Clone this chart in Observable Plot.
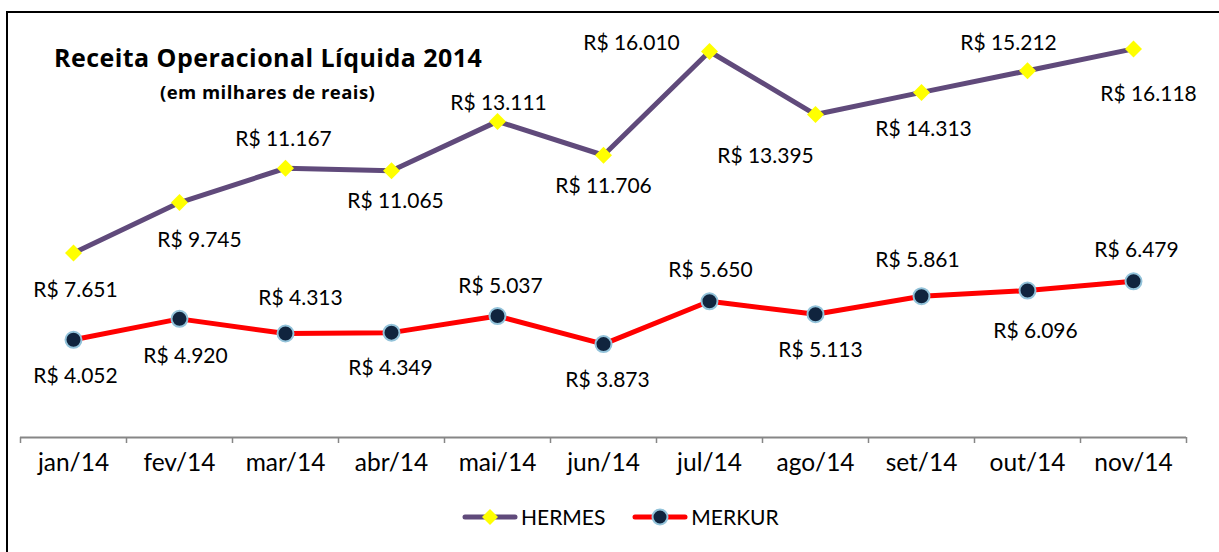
<!DOCTYPE html>
<html>
<head>
<meta charset="utf-8">
<script src="https://cdn.jsdelivr.net/npm/d3@7"></script>
<script src="https://cdn.jsdelivr.net/npm/@observablehq/plot@0.6"></script>
<style>
  html, body { margin: 0; padding: 0; background: #fff; }
  body { width: 1219px; height: 552px; position: relative; overflow: hidden; font-family: Lato, "Open Sans", sans-serif; }
  #frame { position: absolute; left: 6px; top: 11px; width: 1300px; height: 700px; border-left: 2px solid #000; border-top: 2px solid #000; box-sizing: border-box; }
  #chart { position: absolute; left: 0; top: 0; }
  #title { position: absolute; left: 54px; top: 42px; font-family: "Open Sans", Lato, sans-serif; font-weight: bold; font-size: 25px; letter-spacing: 0.45px; color: #000; white-space: nowrap; line-height: 30px; }
  #subtitle { position: absolute; left: 160px; top: 81px; font-family: "Open Sans", Lato, sans-serif; font-weight: bold; font-size: 18.5px; letter-spacing: 0.45px; color: #000; white-space: nowrap; line-height: 22px; }
  #legend { position: absolute; top: 504px; left: 462px; display: flex; align-items: center; font-size: 21px; color: #000; white-space: nowrap; }
  #legend .item { display: flex; align-items: center; }
  #legend svg { display: block; margin-right: 3px; }
</style>
</head>
<body>
<div id="frame"></div>
<div id="chart"></div>
<div id="title">Receita Operacional Líquida 2014</div>
<div id="subtitle">(em milhares de reais)</div>
<div id="legend"></div>
<script>
// ---- data ----
const months = ["jan/14","fev/14","mar/14","abr/14","mai/14","jun/14","jul/14","ago/14","set/14","out/14","nov/14"];
const hermes = [7651, 9745, 11167, 11065, 13111, 11706, 16010, 13395, 14313, 15212, 16118];
const merkur = [4052, 4920, 4313, 4349, 5037, 3873, 5650, 5113, 5861, 6096, 6479];
const seriesNames = ["HERMES", "MERKUR"];

// ---- label placement (pixel offsets from each point) ----
const hermesLabelOffset = [[2,37],[20,38],[-2,-29],[4,31],[1,-18],[0,31],[-78,-8],[-50,42],[2,37],[-19,-27],[15,45]];
const merkurLabelOffset = [[2,36],[6,37],[15,-35],[-1,36],[3,-30],[4,36],[1,-31],[5,36],[-4,-36],[8,41],[3,-31]];

// ---- styles ----
const hermesColor = "#604A7B", hermesMarker = "#FFFF00";
const merkurColor = "#FF0000", merkurMarker = "#10243E", merkurMarkerStroke = "#93C3DA";
const fontFamily = "Lato, 'Open Sans', sans-serif";

const locale = d3.formatLocale({decimal: ",", thousands: ".", grouping: [3], currency: ["R$ ", ""]});
const fmt = locale.format("$,");

const rows = [];
months.forEach((m, i) => {
  rows.push({series: seriesNames[0], i, month: m, value: hermes[i] / 1000, raw: hermes[i], off: hermesLabelOffset[i]});
  rows.push({series: seriesNames[1], i, month: m, value: merkur[i] / 1000, raw: merkur[i], off: merkurLabelOffset[i]});
});
const H = rows.filter(d => d.series === "HERMES");
const M = rows.filter(d => d.series === "MERKUR");

const diamond = {
  draw(ctx, size) {
    const r = Math.sqrt(size / Math.PI);
    ctx.moveTo(0, -r); ctx.lineTo(r, 0); ctx.lineTo(0, r); ctx.lineTo(-r, 0); ctx.closePath();
  }
};

const boundaries = d3.range(months.length + 1).map(k => k - 0.5);

const labelMarks = rows.map(d => Plot.text([d], {
  x: "i", y: "value", text: r => fmt(r.raw),
  dx: d.off[0], dy: d.off[1],
  fontSize: 21, fill: "#000", fontFamily
}));

const plot = Plot.plot({
  width: 1219,
  height: 552,
  marginLeft: 20,
  marginRight: 33,
  marginTop: 3,
  marginBottom: 115,
  style: {fontFamily, background: "transparent"},
  x: {type: "linear", domain: [-0.5, months.length - 0.5], axis: null, label: null},
  y: {domain: [0, 18], axis: null, label: null},
  marks: [
    Plot.ruleY([0], {stroke: "#868686", strokeWidth: 2}),
    Plot.axisX({ticks: boundaries, tickSize: 6, tickFormat: () => "", label: null, stroke: "#868686", strokeWidth: 1.5}),
    Plot.text(months, {x: (d, i) => i, text: d => d, frameAnchor: "bottom", dy: 33, fontSize: 24.5, fill: "#000", fontFamily}),
    Plot.line(H, {x: "i", y: "value", stroke: hermesColor, strokeWidth: 5}),
    Plot.line(M, {x: "i", y: "value", stroke: merkurColor, strokeWidth: 5}),
    Plot.dot(H, {x: "i", y: "value", symbol: diamond, r: 8.5, fill: hermesMarker, stroke: "none"}),
    Plot.dot(M, {x: "i", y: "value", r: 8, fill: merkurMarker, stroke: merkurMarkerStroke, strokeWidth: 2}),
    ...labelMarks
  ]
});
document.getElementById("chart").appendChild(plot);

// ---- legend ----
const legend = document.getElementById("legend");
function swatch(kind) {
  const ns = "http://www.w3.org/2000/svg";
  const s = document.createElementNS(ns, "svg");
  s.setAttribute("width", 56); s.setAttribute("height", 22);
  const line = document.createElementNS(ns, "line");
  line.setAttribute("x1", 3); line.setAttribute("x2", 53); line.setAttribute("y1", 11); line.setAttribute("y2", 11);
  line.setAttribute("stroke-width", 5); line.setAttribute("stroke-linecap", "round");
  line.setAttribute("stroke", kind === "HERMES" ? hermesColor : merkurColor);
  s.appendChild(line);
  if (kind === "HERMES") {
    const p = document.createElementNS(ns, "path");
    p.setAttribute("d", "M28,3L36,11L28,19L20,11Z");
    p.setAttribute("fill", hermesMarker);
    s.appendChild(p);
  } else {
    const c = document.createElementNS(ns, "circle");
    c.setAttribute("cx", 28); c.setAttribute("cy", 11); c.setAttribute("r", 7.5);
    c.setAttribute("fill", merkurMarker); c.setAttribute("stroke", merkurMarkerStroke); c.setAttribute("stroke-width", 2);
    s.appendChild(c);
  }
  return s;
}
seriesNames.forEach((name, k) => {
  const item = document.createElement("div");
  item.className = "item";
  if (k > 0) item.style.marginLeft = "27px";
  item.appendChild(swatch(name));
  const t = document.createElement("span");
  t.textContent = name;
  item.appendChild(t);
  legend.appendChild(item);
});
</script>
</body>
</html>
